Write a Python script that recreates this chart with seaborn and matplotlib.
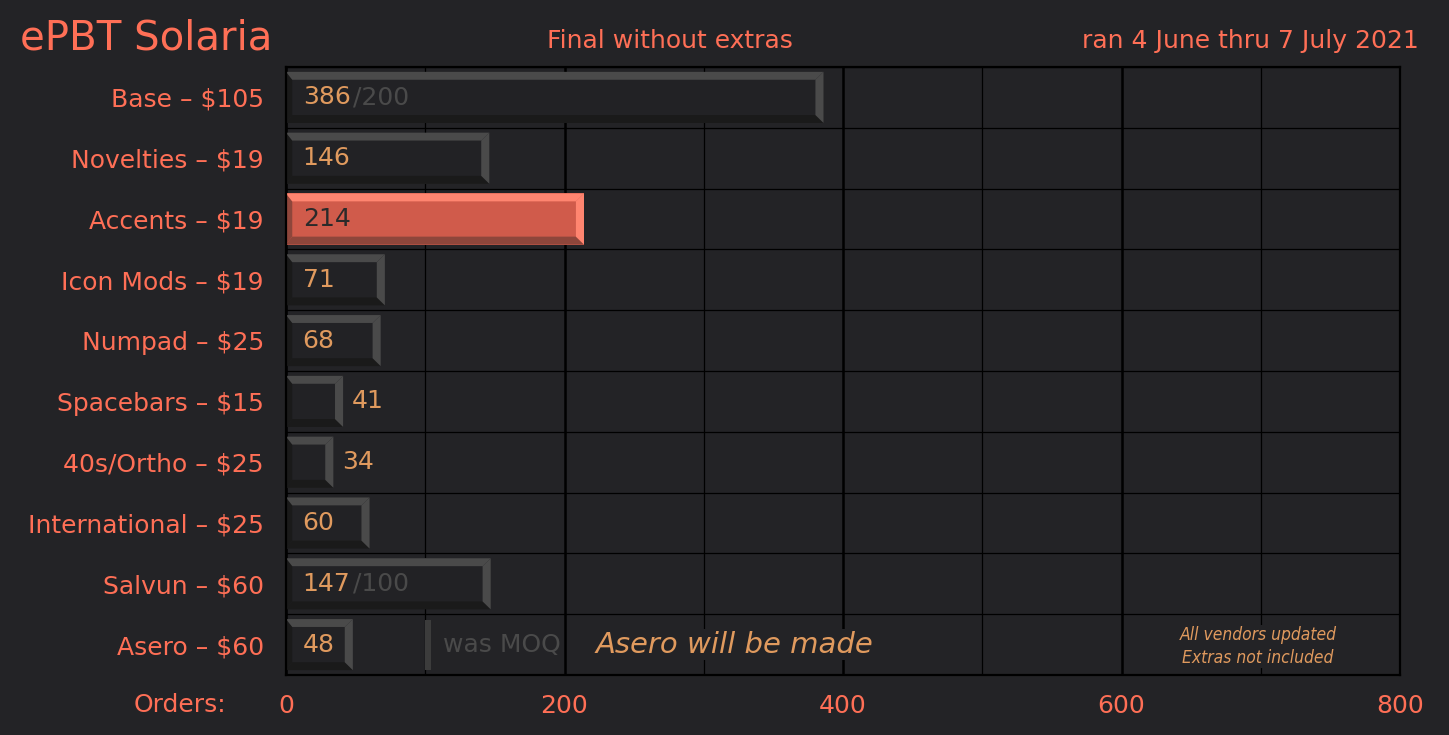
import numpy as np
import pandas as pd
import matplotlib
matplotlib.use("Agg")
import matplotlib.pyplot as plt
from matplotlib.patches import Polygon, Rectangle
import seaborn as sns

# data
categories = ["Base", "Novelties", "Accents", "Icon Mods", "Numpad",
              "Spacebars", "40s/Ortho", "International", "Salvun", "Asero"]
prices = [105, 19, 19, 19, 25, 15, 25, 25, 60, 60]
orders = [386, 146, 214, 71, 68, 41, 34, 60, 147, 48]
moq = [200, None, None, None, None, None, None, None, 100, 100]
highlight = "Accents"
x_ticks = [0, 200, 400, 600, 800]
x_minor = [100, 300, 500, 700]

title = "ePBT Solaria"
subtitle = "Final without extras"
run_dates = "ran 4 June thru 7 July 2021"
asero_note = "Asero will be made"
corner_note = "All vendors updated\nExtras not included"

# style
BG = "#232326"
CORAL = "#ff6f56"
TAN = "#e09a5e"
GOAL_GREY = "#4a4a4a"
FACE = {"dark": "#222225", "hi": "#d05b4b"}
LIGHT = {"dark": "#4a4a4a", "hi": "#ff8570"}
SHADE = {"dark": "#1a1a1a", "hi": "#8e463b"}
BEVEL_X = 5.8    # right bevel, data units
BEVEL_XL = 4.5   # left bevel
BEVEL_Y = 0.13   # top/bottom bevel, row units

sns.set_style("dark")
plt.rcParams["font.family"] = ["DejaVu Sans"]
plt.rcParams["font.size"] = 18

labels = [f"{c} \u2013 ${p}" for c, p in zip(categories, prices)]
kinds = ["hi" if c == highlight else "dark" for c in categories]
df = pd.DataFrame({"label": labels, "orders": orders, "kind": kinds})

fig = plt.figure(figsize=(14.49, 7.35), dpi=100, facecolor=BG)
ax = fig.add_axes([286 / 1449, 60 / 735, 1114 / 1449, 608 / 735])
ax.set_facecolor(BG)

sns.barplot(data=df, x="orders", y="label", hue="label", orient="h",
            palette=[FACE[k] for k in kinds], width=0.84, saturation=1,
            legend=False, ax=ax, zorder=2, linewidth=0, edgecolor="none")

n = len(categories)
for p in ax.patches:
    x0, y0 = p.get_x(), p.get_y()
    x1, y1 = x0 + p.get_width(), y0 + p.get_height()
    i = int(round((y0 + y1) / 2))
    k = kinds[i]
    shapes = [
        ([(x0, y1), (x1, y1), (x1 - BEVEL_X, y1 - BEVEL_Y), (x0 + BEVEL_XL, y1 - BEVEL_Y)], SHADE[k]),
        ([(x0, y0), (x0, y1), (x0 + BEVEL_XL, y1 - BEVEL_Y), (x0 + BEVEL_XL, y0 + BEVEL_Y)], SHADE[k]),
        ([(x0, y0), (x1, y0), (x1 - BEVEL_X, y0 + BEVEL_Y), (x0 + BEVEL_XL, y0 + BEVEL_Y)], LIGHT[k]),
        ([(x1, y0), (x1, y1), (x1 - BEVEL_X, y1 - BEVEL_Y), (x1 - BEVEL_X, y0 + BEVEL_Y)], LIGHT[k]),
    ]
    for pts, col in shapes:
        ax.add_patch(Polygon(pts, closed=True, facecolor=col, edgecolor="none", zorder=3))

# value labels
for i, v in enumerate(orders):
    if v >= 45:
        t = ax.text(12, i, str(v), va="center", ha="left", zorder=5,
                    color="#2a2a2a" if kinds[i] == "hi" else TAN)
    else:
        t = ax.text(v + 6.5, i, str(v), va="center", ha="left", zorder=5, color=TAN)
    goal = moq[i]
    if goal is None:
        continue
    if v >= goal:
        ax.annotate(f"/{goal}", xy=(1, 0), xycoords=t, xytext=(2, 0),
                    textcoords="offset points", ha="left", va="bottom",
                    color=GOAL_GREY, zorder=5)
    else:
        ax.add_patch(Rectangle((goal, i - 0.41), 4, 0.82, facecolor="#3c3c3c",
                               edgecolor="none", zorder=3))
        ax.text(goal + 12.5, i, "was MOQ", va="center", ha="left", color=GOAL_GREY,
                zorder=5, bbox=dict(facecolor=BG, edgecolor="none", pad=1))
        ax.text(222, i, asero_note, va="center", ha="left", color=TAN,
                style="italic", fontsize=21, zorder=5,
                bbox=dict(facecolor=BG, edgecolor="none", pad=1))

ax.text(698, n - 1 + 0.03, corner_note, ha="center", va="center", color=TAN,
        family="DejaVu Sans", stretch="condensed", style="italic",
        fontsize=12.5, linespacing=1.3, zorder=5,
        bbox=dict(facecolor=BG, edgecolor="none", pad=1))

# axes
ax.set_xlim(0, 800)
ax.set_ylim(n - 0.5, -0.5)
ax.set_xticks(x_ticks)
ax.set_xticks(x_minor, minor=True)
ax.set_yticks(np.arange(-0.5, n, 1), minor=True)
ax.set_axisbelow(True)
ax.grid(False)
ax.grid(which="major", axis="x", color="black", lw=1.8, zorder=0)
ax.grid(which="minor", axis="both", color="black", lw=0.9, zorder=0)
ax.tick_params(which="both", length=0, colors=CORAL, labelsize=18)
ax.tick_params(axis="x", pad=14)
ax.tick_params(axis="y", pad=16)
ax.set_xlabel("")
ax.set_ylabel("")
for s in ax.spines.values():
    s.set_visible(True)
    s.set_color("black")
    s.set_linewidth(1.6)
    s.set_zorder(6)

fig.text(20 / 1449, 1 - 49 / 735, title, color=CORAL, fontsize=29,
         ha="left", va="baseline")
fig.text(670 / 1449, 1 - 48.5 / 735, subtitle, color=CORAL, fontsize=18,
         ha="center", va="baseline")
fig.text(1419 / 1449, 1 - 48 / 735, run_dates, color=CORAL, fontsize=18,
         ha="right", va="baseline")
fig.text(226 / 1449, 1 - 693 / 735, "Orders:", color=CORAL, fontsize=18,
         ha="right", va="top")

fig.savefig("out.png", dpi=100, facecolor=BG)
